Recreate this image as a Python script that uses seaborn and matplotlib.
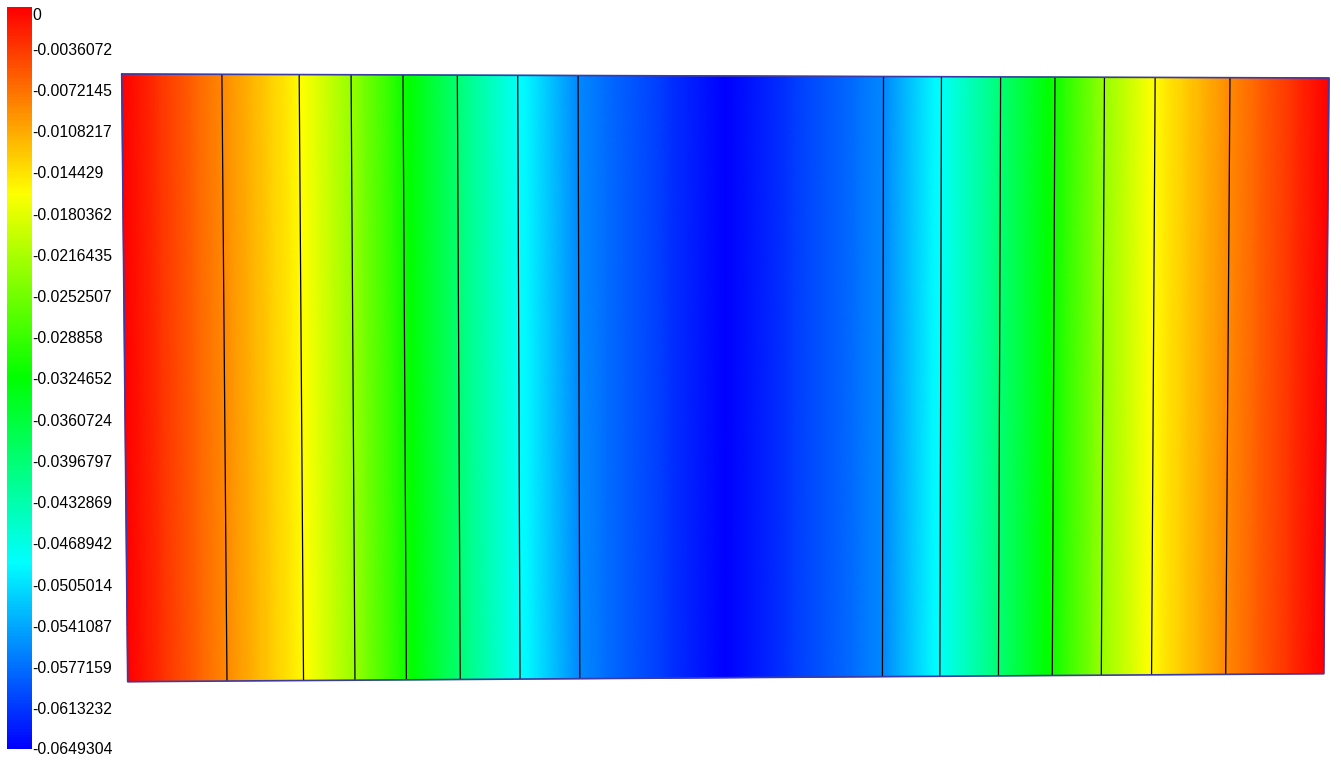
import numpy as np
import matplotlib
matplotlib.use("Agg")
import matplotlib.pyplot as plt
import matplotlib.tri as mtri
from matplotlib.colors import Normalize
from matplotlib.transforms import offset_copy
import seaborn as sns

# ---- data -------------------------------------------------------------
# nodal x-positions along the span (span length 10) and nodal deflection
node_x = [0.0, 0.83, 1.47, 1.90, 2.33, 2.78, 3.28, 3.78, 5.00,
          6.31, 6.79, 7.28, 7.73, 8.14, 8.56, 9.18, 10.0]
node_value = [0.0, -0.0088, -0.0160, -0.0230, -0.0315, -0.0398, -0.0482,
              -0.0562, -0.0649304,
              -0.0562, -0.0482, -0.0398, -0.0315, -0.0230, -0.0160, -0.0088, 0.0]
# nodes that lie on element boundaries (the 5.0 node is a mid-side node)
element_edges = [0.83, 1.47, 1.90, 2.33, 2.78, 3.28, 3.78,
                 6.31, 6.79, 7.28, 7.73, 8.14, 8.56, 9.18]
n_rows = 4

legend_labels = ["0", "-0.0036072", "-0.0072145", "-0.0108217", "-0.014429",
                 "-0.0180362", "-0.0216435", "-0.0252507", "-0.028858",
                 "-0.0324652", "-0.0360724", "-0.0396797", "-0.0432869",
                 "-0.0468942", "-0.0505014", "-0.0541087", "-0.0577159",
                 "-0.0613232", "-0.0649304"]
legend_values = [float(s) for s in legend_labels]
vmin, vmax = min(legend_values), max(legend_values)

# ---- style ------------------------------------------------------------
sns.set_style("white")
plt.rcParams["font.family"] = ["Liberation Sans", "DejaVu Sans"]

cmap = sns.blend_palette(["#0000ff", "#00ffff", "#00ff00", "#ffff00", "#ff0000"],
                         n_colors=256, as_cmap=True)
norm = Normalize(vmin=vmin, vmax=vmax)

W, H = 1341, 760
fig = plt.figure(figsize=(W / 100, H / 100), dpi=100)
ax = fig.add_axes([0, 0, 1, 1])
ax.set_xlim(0, W)
ax.set_ylim(H, 0)
ax.axis("off")

# plate corners in screen space (slightly skewed view)
TL = np.array([121.7, 74.0])
TR = np.array([1329.0, 78.0])
BR = np.array([1323.8, 673.7])
BL = np.array([127.7, 681.7])
span = node_x[-1]


def to_screen(s, t):
    s = np.asarray(s, float)[..., None]
    t = np.asarray(t, float)[..., None]
    return ((1 - s) * (1 - t) * TL + s * (1 - t) * TR
            + s * t * BR + (1 - s) * t * BL)


# ---- mesh + field -----------------------------------------------------
s_nodes = np.array(node_x) / span
t_nodes = np.linspace(0, 1, n_rows + 1)
S, T = np.meshgrid(s_nodes, t_nodes)
P = to_screen(S.ravel(), T.ravel())
Z = np.tile(np.array(node_value), n_rows + 1)

nc = len(s_nodes)
tris = []
for r in range(n_rows):
    for c in range(nc - 1):
        a = r * nc + c
        b = a + 1
        d = a + nc
        e = d + 1
        tris.append([a, b, e])
        tris.append([a, e, d])
triang = mtri.Triangulation(P[:, 0], P[:, 1], tris)
refiner = mtri.UniformTriRefiner(triang)
interp = mtri.LinearTriInterpolator(triang, Z)
tri_f, z_f = refiner.refine_field(Z, triinterpolator=interp, subdiv=4)
field = ax.tripcolor(tri_f, z_f, cmap=cmap, norm=norm, shading="gouraud")

# element boundary lines
for xe in element_edges:
    seg = to_screen(np.full(2, xe / span), np.array([0.0, 1.0]))
    ax.plot(seg[:, 0], seg[:, 1], color="black", lw=0.9,
            solid_capstyle="butt")

# plate outline
outline = np.vstack([TL, TR, BR, BL, TL])
ax.plot(outline[:, 0], outline[:, 1], color="#3a3aa8", lw=1.2)

# ---- colour legend ----------------------------------------------------
cax = fig.add_axes([7 / W, (H - 749) / H, 24.5 / W, 742 / H])
cb = fig.colorbar(field, cax=cax)
cb.outline.set_visible(False)
cb.set_ticks([])
trans = cax.get_yaxis_transform()
for i, (lab, v) in enumerate(zip(legend_labels, legend_values)):
    dy = -2
    if i == 0:
        dy = -8
    elif i == len(legend_labels) - 1:
        dy = 0
    tr = offset_copy(trans, fig=fig, x=0, y=dy, units="dots")
    cax.text(1.04, v, lab, transform=tr, ha="left", va="center",
             fontsize=11.3, color="black")

fig.savefig("out.png", dpi=100)
